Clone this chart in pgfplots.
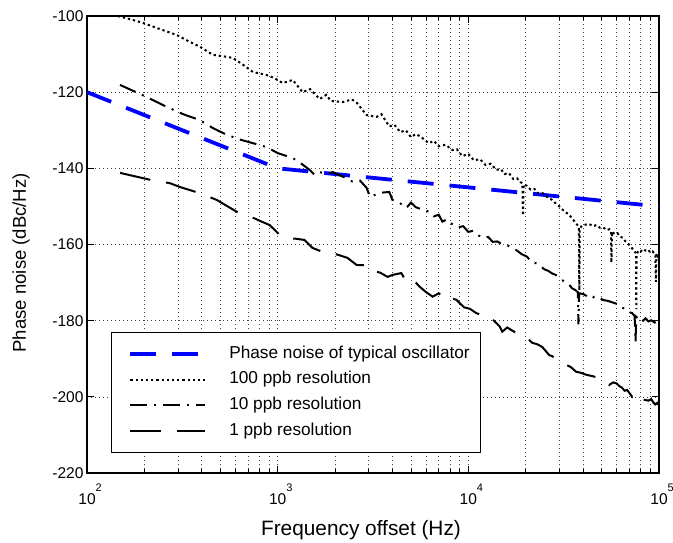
\documentclass[border=0pt]{standalone}
\usepackage{fontspec}
\setmainfont{Liberation Sans}
\usepackage{pgfplots}
\pgfplotsset{compat=1.18}
\definecolor{pnblue}{RGB}{0,0,255}
\newcommand{\xtl}[1]{10\rlap{\raisebox{13bp}{\fontsize{11}{13}\selectfont #1}}}
\begin{document}
\begin{tikzpicture}
\begin{axis}[
  at={(0bp,0bp)}, anchor=south west,
  scale only axis, width=572bp, height=457bp,
  xmode=log, xmin=100, xmax=100000, ymin=-220, ymax=-100,
  ytick={-220,-200,-180,-160,-140,-120,-100},
  xtick={100,1000,10000,100000},
  xticklabels={\xtl{2},\xtl{3},\xtl{4},\xtl{5}},
  minor xtick={200,300,400,500,600,700,800,900,2000,3000,4000,5000,6000,7000,8000,9000,20000,30000,40000,50000,60000,70000,80000,90000},
  xmajorgrids, xminorgrids, ymajorgrids,
  grid style={black!75, line width=0.6bp, dash pattern=on 0.8bp off 3.2bp},
  minor grid style={black!75, line width=0.6bp, dash pattern=on 0.8bp off 3.2bp},
  tick align=inside, tick pos=both,
  major tick length=7bp, minor tick length=4bp,
  every tick/.style={black, line width=0.7bp},
  axis line style={black, line width=1.5bp},
  ticklabel style={font=\fontsize{15.6}{18}\selectfont},
  /pgf/number format/assume math mode=true,
  xticklabel style={anchor=base, yshift=-32bp},
  xlabel={Frequency offset (Hz)},
  ylabel={Phase noise (dBc/Hz)},
  every axis x label/.style={at={(axis description cs:0.479,-0.1357)}, anchor=base, font=\fontsize{20.9}{24}\selectfont},
  every axis y label/.style={at={(axis description cs:-0.1154,0.46)}, rotate=90, anchor=center, font=\fontsize{18.6}{22}\selectfont},
  legend style={at={(rel axis cs:0.042,0.044)}, anchor=south west, draw=black, line width=0.9bp,
    fill=white, font=\fontsize{17.3}{20}\selectfont, inner xsep=11bp, inner ysep=13bp,
    row sep=9.7bp, column sep=22bp,
    nodes={inner sep=0pt, text height=12.5bp, text depth=3.7bp}},
  legend cell align=left,
  legend image code/.code={\path (0bp,0bp); \draw[#1] (6bp,0bp) -- (81bp,0bp);},
]
\addplot[pnblue, line width=3.8bp, dash pattern=on 26bp off 16bp] coordinates {
(100,-120) (1000,-140) (100000,-150)};
\addlegendentry{Phase noise of typical oscillator}

\addplot[black, line width=2bp, dash pattern=on 2.3bp off 2.9bp] coordinates {
(145,-100.0) (170,-100.9) (196,-101.8) (240,-103.4) (296,-105.0) (340,-106.6) (389,-108.0)
(457,-110.2) (520,-110.6) (581,-111.0) (650,-112.6) (742,-114.7) (874,-115.5) (960,-116.3)
(1062,-117.6) (1200,-116.8) (1350,-120.0) (1480,-119.2) (1660,-121.8) (1800,-120.7) (1900,-122.3)
(2200,-122.6) (2450,-121.9) (2600,-122.8) (2925,-126.0) (3300,-126.5) (3500,-125.8) (3850,-129.0)
(4100,-128.6) (4400,-130.5) (4700,-130.0) (5000,-131.8) (5300,-131.0) (5600,-131.6) (6200,-133.4)
(6600,-132.8) (7000,-134.2) (7600,-133.8) (8240,-135.2) (8700,-135.0) (9300,-136.8) (10000,-136.2)
(10700,-137.9) (11500,-137.6) (12300,-139.1) (13100,-138.8) (14000,-140.4) (14800,-140.2)
(15500,-141.5) (16300,-141.2) (17200,-142.8) (18000,-142.6) (18700,-143.6) (19200,-143.9)
(19350,-152.4) (19500,-144.2) (20300,-144.6) (21200,-145.6) (22200,-145.4) (23300,-146.6)
(24500,-146.5) (26000,-147.6) (27500,-148.3) (29000,-149.4) (30500,-150.3) (32000,-151.4)
(33500,-152.0) (35000,-153.1) (36500,-154.3) (37500,-155.0) (38000,-155.6) (38200,-172.0)
(38400,-155.8) (39500,-155.0) (41000,-154.8) (43000,-154.6) (45000,-155.2) (47000,-154.9)
(49000,-155.6) (51000,-155.5) (53000,-156.2) (55000,-156.0) (56000,-156.6) (56300,-164.8)
(56600,-156.7) (58500,-157.2) (60500,-157.0) (62500,-158.0) (64500,-158.2) (66500,-159.1)
(68500,-159.6) (70500,-160.4) (72300,-161.0) (74000,-161.8) (75800,-162.2) (76000,-177.0)
(76300,-162.6) (78000,-161.6) (80000,-161.9) (82500,-161.2) (85000,-161.6) (87500,-161.3)
(90000,-162.1) (92500,-161.8) (95600,-162.7) (96300,-169.8) (97000,-162.4) (98500,-163.1)
(100000,-162.8)};
\addlegendentry{100 ppb resolution}

\addplot[black, line width=2bp, dash pattern=on 17bp off 7bp on 2bp off 7bp] coordinates {
(149,-118.1) (200,-121.0) (263,-123.9) (320,-125.8) (389,-127.3) (460,-129.5) (541,-131.2)
(640,-132.5) (742,-133.4) (874,-134.4) (1000,-136.0) (1200,-137.3) (1350,-139.0) (1470,-140.4)
(1560,-141.7) (1660,-141.0) (1800,-141.4) (1950,-141.0) (2200,-142.2) (2470,-143.5) (2700,-143.2)
(2925,-145.1) (3050,-147.5) (3300,-146.8) (3500,-146.4) (3850,-146.2) (4000,-148.3) (4300,-148.8)
(4500,-149.6) (4730,-150.4) (5000,-149.0) (5300,-150.2) (5700,-150.8) (6250,-151.4) (6600,-152.6)
(7000,-152.2) (7310,-154.0) (7700,-153.4) (8200,-154.6) (8800,-155.5) (9400,-155.2) (10000,-156.7)
(10600,-156.4) (11300,-157.6) (12000,-158.3) (12700,-158.0) (13400,-159.3) (14200,-159.2)
(15000,-159.9) (16000,-160.2) (17000,-160.9) (18000,-161.6) (19000,-162.5) (20300,-163.2)
(21600,-164.8) (22800,-164.9) (24000,-165.7) (25000,-166.5) (26200,-166.9) (27500,-167.6)
(28800,-168.0) (30400,-169.0) (32000,-169.8) (33500,-170.3) (35000,-171.5) (36500,-172.0)
(37500,-172.5) (37800,-181.0) (38100,-172.8) (40000,-173.0) (42000,-173.6) (44000,-173.2)
(46000,-174.1) (48500,-173.9) (51000,-174.6) (54000,-174.8) (57000,-175.2) (61700,-175.8)
(64000,-176.6) (67000,-176.9) (70000,-177.8) (72300,-178.0) (74500,-178.8) (75300,-185.6)
(76000,-179.0) (78000,-179.6) (80000,-179.2) (82500,-180.0) (85000,-179.4) (88000,-180.2)
(91000,-179.9) (95000,-180.5) (97500,-180.2) (100000,-181.0)};
\addlegendentry{10 ppb resolution}

\addplot[black, line width=2bp, dash pattern=on 31bp off 16bp] coordinates {
(149,-141.2) (214,-143.0) (272,-143.9) (307,-144.9) (389,-146.5) (479,-148.3) (610,-151.4)
(671,-152.2) (760,-153.2) (824,-154.0) (908,-154.9) (1050,-158.0) (1130,-158.3) (1250,-158.5)
(1380,-158.8) (1524,-160.9) (1650,-161.6) (1807,-162.2) (1920,-162.2) (2100,-162.8) (2320,-163.5)
(2600,-165.4) (2970,-165.4) (3150,-166.9) (3450,-167.4) (3770,-168.5) (4000,-168.0) (4450,-167.5)
(4730,-169.8) (5100,-170.6) (5300,-170.0) (5530,-171.0) (6000,-172.5) (6500,-173.7) (7000,-172.8)
(7700,-174.8) (8200,-174.2) (8650,-174.5) (9100,-175.6) (9500,-176.5) (10200,-176.9) (11000,-178.0)
(11800,-178.6) (12500,-179.5) (13200,-179.3) (14000,-180.6) (14600,-181.5) (15060,-182.9)
(16000,-181.8) (17000,-182.6) (17800,-183.2) (18500,-183.7) (19200,-184.0) (20000,-184.8)
(20800,-185.0) (21600,-185.8) (23000,-186.2) (24400,-186.9) (25500,-188.0) (26500,-189.0)
(27700,-189.4) (29000,-190.0) (30800,-190.6) (32600,-191.6) (34500,-192.2) (36700,-193.4)
(39000,-193.7) (41500,-194.2) (45000,-194.6) (48500,-195.0) (51500,-195.8) (54700,-196.9)
(57500,-196.2) (60000,-196.5) (62000,-197.2) (64000,-197.6) (66000,-198.4) (68000,-198.2)
(70000,-199.0) (72300,-200.0) (74500,-199.6) (77000,-200.6) (79000,-199.9) (81400,-200.3)
(84000,-200.8) (88000,-201.0) (91000,-200.6) (93500,-201.5) (95600,-202.0) (98000,-201.6)
(100000,-202.3)};
\addlegendentry{1 ppb resolution}
\end{axis}
\useasboundingbox (-87bp,-66bp) rectangle (586bp,473bp);
\end{tikzpicture}
\end{document}
